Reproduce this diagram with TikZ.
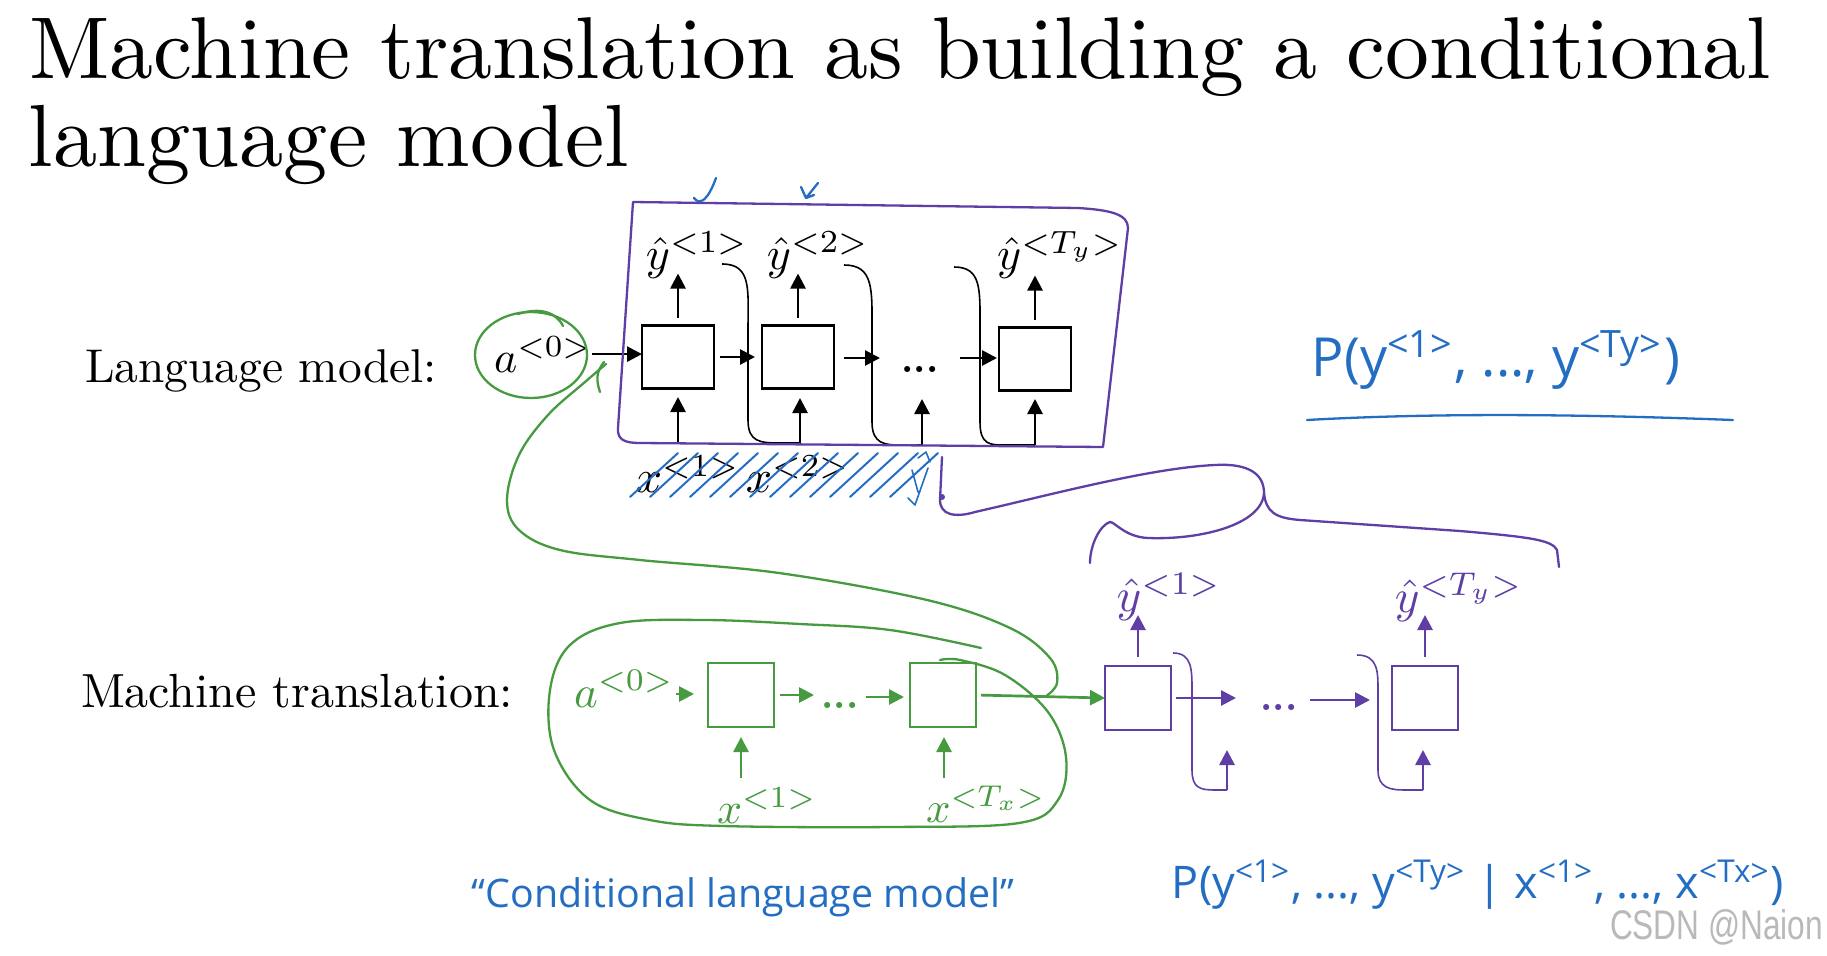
\documentclass[tikz,border=0pt]{standalone}
\usepackage{fontspec}
\usepackage{graphicx}
\usetikzlibrary{arrows.meta,calc}
\newfontfamily\handfont{Open Sans}
\newfontfamily\wmfont{Liberation Sans}
\definecolor{mygreen}{RGB}{70,155,65}
\definecolor{mypurple}{RGB}{95,62,165}
\definecolor{myblue}{RGB}{35,110,195}
\newcommand{\Mth}[2][4.6]{\scalebox{#1}{$#2$}}
\newcommand{\Dts}{\resizebox{37pt}{!}{\textbf{...}}}
\begin{document}
\begin{tikzpicture}[x=1pt,y=-1pt,
  every node/.style={inner sep=0pt, outer sep=0pt},
  lbox/.style={draw=black, line width=2.7pt, minimum width=72pt, minimum height=63pt},
  gbox/.style={draw=mygreen, line width=2.6pt, minimum width=66pt, minimum height=64pt},
  pbox/.style={draw=mypurple, line width=2.6pt, minimum width=66pt, minimum height=64pt},
  arr/.style={line width=2.7pt, -{Triangle[length=15pt,width=15pt]}},
  fb/.style={line width=1.6pt},
  hand/.style={line width=2.3pt, line cap=round, line join=round},
]
\useasboundingbox (0,0) rectangle (1827,955);
\fill[white] (0,0) rectangle (1827,955);

% title
\node[anchor=base west] (title1) at (29,79) {\resizebox{1742pt}{!}{Machine translation as building a conditional}};
\node[anchor=base west] (title2) at (29,166) {\resizebox{600pt}{!}{language model}};

% left labels
\node[anchor=base west] (lm) at (85,382) {\resizebox{352pt}{!}{Language model:}};
\node[anchor=base west] (mt) at (81,707) {\resizebox{432pt}{!}{Machine translation:}};

% ---------- language model (black) ----------
\node[anchor=base west] (a0) at (494,372) {\Mth[4.4]{a^{<0>}}};
\node[lbox] (b1) at (678,357) {};
\node[lbox] (b2) at (798,357) {};
\node[anchor=base] (d1) at (920,372) {\Dts};
\node[lbox] (b3) at (1035,359) {};

\node (yh1) at (697,255) {\Mth{\hat{y}^{<1>}}};
\node (yh2) at (818,255) {\Mth{\hat{y}^{<2>}}};
\node (yh3) at (1060,255) {\Mth{\hat{y}^{<T_y>}}};

\draw[arr] (a0.east) -- (a0.east -| b1.west);
\draw[arr, shorten <=6pt, shorten >=7pt] (b1.east) -- (b2.west);
\draw[arr] (844,358) -- (880,358);
\draw[arr] (960,358) -- (997,358);

\foreach \b in {b1,b2,b3}{
  \draw[arr] (\b.north) ++(0,-8) -- ++(0,-44);
}
\coordinate (i1) at (678,442);
\coordinate (i2) at (800,443);
\coordinate (i3) at (922,445);
\coordinate (i4) at (1035,445);
\draw[arr] (i1) -- (678,397);
\draw[arr] (i2) -- (800,398);
\draw[arr] (i3) -- (922,399);
\draw[arr] (i4) -- (1035,399);

\draw[fb] (722,264) .. controls (752,264) and (748,290) .. (748,330) -- (748,420) .. controls (748,442) and (760,443) .. (780,443) -- (i2);
\draw[fb] (844,265) .. controls (874,265) and (872,290) .. (872,330) -- (872,422) .. controls (872,444) and (885,445) .. (900,445) -- (i3);
\draw[fb] (954,267) .. controls (982,267) and (980,290) .. (980,330) -- (980,422) .. controls (980,445) and (990,445) .. (1005,445) -- (i4);

\node (x1) at (688,474) {\Mth{x^{<1>}}};
\node (x2) at (798,474) {\Mth{x^{<2>}}};

% ---------- machine translation (green encoder) ----------
\node[anchor=base west, text=mygreen] (ga0) at (574,707) {\Mth[4.5]{a^{<0>}}};
\node[gbox] (g1) at (741,695) {};
\node[anchor=base, text=mygreen] (gd) at (840,708) {\Dts};
\node[gbox] (g2) at (943,695) {};
\node[text=mygreen] (gx1) at (767,806) {\Mth[4.4]{x^{<1>}}};
\node[text=mygreen] (gx2) at (986,804) {\Mth[4.3]{x^{<T_x>}}};

\begin{scope}[mygreen]
\draw[arr, shorten <=2pt, shorten >=14pt] (ga0.east |- 0,694) -- (g1.west |- 0,694);
\draw[arr] (780,695) -- (814,695);
\draw[arr] (866,697) -- (904,697);
\draw[arr] (741,778) -- (741,737);
\draw[arr] (944,778) -- (944,737);
\end{scope}

% ---------- machine translation (purple decoder) ----------
\node[pbox] (p1) at (1138,698) {};
\node[anchor=base, text=mypurple] (pd) at (1279,710) {\Dts};
\node[pbox] (p2) at (1425,698) {};
\node[text=mypurple] (py1) at (1169,597) {\Mth[4.7]{\hat{y}^{<1>}}};
\node[text=mypurple] (py2) at (1459,597) {\Mth[4.7]{\hat{y}^{<T_y>}}};

\draw[arr, mygreen, shorten <=5pt] (g2.east) -- (p1.west);

\begin{scope}[mypurple]
\draw[arr] (p1.north) ++(0,-9) -- ++(0,-42);
\draw[arr] (p2.north) ++(0,-9) -- ++(0,-42);
\draw[arr] (1176,698) -- (1236,698);
\draw[arr] (1310,700) -- (1370,700);
\coordinate (pi1) at (1227,790);
\coordinate (pi2) at (1423,790);
\draw[arr] (pi1) -- (1227,750);
\draw[arr] (pi2) -- (1423,750);
\draw[fb] (1173,653) .. controls (1192,653) and (1192,670) .. (1192,690) -- (1192,770) .. controls (1192,788) and (1200,790) .. (1215,790) -- (pi1);
\draw[fb] (1357,655) .. controls (1378,655) and (1378,672) .. (1378,690) -- (1378,770) .. controls (1378,788) and (1390,790) .. (1405,790) -- (pi2);
\end{scope}

% ---------- hand-drawn annotations ----------
% purple frame
\draw[mypurple, hand] (633,202) -- (1078,208) .. controls (1110,210) and (1128,214) .. (1128,228) -- (1103,447) -- (640,443) .. controls (625,443) and (617,440) .. (618,428) -- cycle;
% purple brace
\draw[mypurple, hand] (942,457) -- (940,500) .. controls (940,515) and (955,518) .. (975,512) .. controls (1050,495) and (1150,468) .. (1215,465) .. controls (1250,463) and (1264,475) .. (1264,493);
\draw[mypurple, hand] (1264,493) .. controls (1262,525) and (1200,540) .. (1148,538) .. controls (1125,537) and (1115,522) .. (1110,522) .. controls (1100,525) and (1090,545) .. (1090,563);
\draw[mypurple, hand] (1264,493) .. controls (1266,512) and (1275,518) .. (1300,520) -- (1460,531) .. controls (1530,537) and (1552,540) .. (1557,550) -- (1559,567);
\fill[mypurple] (942,497) circle (3pt);

% blue hatching
\foreach \x in {630,650,...,890}{
  \draw[myblue, line width=2pt, line cap=round] (\x,497) -- ++(48,-44);
}
\draw[myblue, line width=1.6pt, line cap=round, line join=round] (912,470) -- (918,492) (928,468) -- (915,505) -- (908,498) (918,458) -- (926,452) -- (930,462);
% blue ticks
\draw[myblue, hand] (694,198) .. controls (700,206) and (708,200) .. (716,178);
\draw[myblue, hand] (818,183) -- (806,198) (801,187) -- (806,198) -- (814,195);

% green annotations
\draw[mygreen, hand] (531,355) ellipse [x radius=56, y radius=43];
\draw[mygreen, hand] (518,314) .. controls (540,307) and (556,312) .. (563,326);
\draw[mygreen, hand] (604,362) .. controls (596,372) and (596,380) .. (600,392);
\draw[mygreen, hand] plot[smooth, tension=0.6] coordinates {(606,364) (585,382) (548,415) (519,455) (507,500) (519,530) (560,550) (640,560) (779,573) (927,600) (1010,628) (1050,658) (1057,683) (1045,697)};
\draw[mygreen, hand] plot[smooth, tension=0.6] coordinates {(981,648) (890,630) (800,624) (705,620) (620,623) (570,645) (550,690) (554,750) (590,800) (650,820) (723,826) (890,827) (1019,823) (1058,800) (1066,757) (1048,712) (1005,675) (960,660) (940,660)};

% handwritten formulas
\node (pl) at (1496,360) {\resizebox{368pt}{!}{\color{myblue}\handfont P(y\textsuperscript{<1>}, ..., y\textsuperscript{<Ty>})}};
\draw[myblue, hand] (1307,420) .. controls (1450,412) and (1600,415) .. (1733,420);
\node (cond) at (743,897) {\resizebox{542pt}{!}{\color{myblue}\handfont “Conditional language model”}};
\node (pcond) at (1478,885) {\resizebox{612pt}{!}{\color{myblue}\handfont P(y\textsuperscript{<1>}, ..., y\textsuperscript{<Ty>} | x\textsuperscript{<1>}, ..., x\textsuperscript{<Tx>})}};

% watermark
\node[anchor=base west] (wm) at (1610,939) {\resizebox{213pt}{30pt}{\color{gray!55}\wmfont CSDN @Naion}};
\end{tikzpicture}
\end{document}
